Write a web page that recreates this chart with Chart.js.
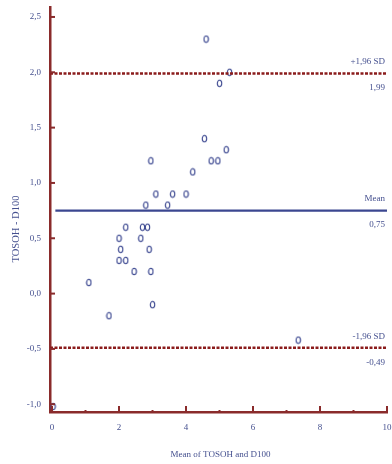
<!DOCTYPE html>
<html>
<head>
<meta charset="utf-8">
<script src="https://cdn.jsdelivr.net/npm/chart.js@4"></script>
<style>
  html, body { margin: 0; padding: 0; background: #fff; }
  #wrap { width: 392px; height: 464px; }
</style>
</head>
<body>
<div id="wrap"><canvas id="chart" width="392" height="464"></canvas></div>
<script>
// datos (Bland-Altman)
const meanVals = [0.03, 1.1, 1.7, 2.0, 2.05, 2.0, 2.2, 2.2, 2.45, 2.65, 2.7, 2.85, 2.8, 2.9, 2.95, 3.0, 2.95, 3.1, 3.45, 3.6, 4.0, 4.2, 4.55, 4.75, 4.95, 5.2, 4.6, 5.0, 5.3, 7.35];
const diffVals = [-1.02, 0.1, -0.2, 0.5, 0.4, 0.3, 0.3, 0.6, 0.2, 0.5, 0.6, 0.6, 0.8, 0.4, 0.2, -0.1, 1.2, 0.9, 0.8, 0.9, 0.9, 1.1, 1.4, 1.2, 1.2, 1.3, 2.3, 1.9, 2.0, -0.42];

const meanDiff = 0.75;
const upperLoA = 1.99;
const lowerLoA = -0.49;
const lineLabels = ['+1,96 SD', 'Mean', '-1,96 SD'];
const lineValues = ['1,99', '0,75', '-0,49'];

const xTicks = [0, 1, 2, 3, 4, 5, 6, 7, 8, 9, 10];
const yTicks = [-1.0, -0.5, 0.0, 0.5, 1.0, 1.5, 2.0, 2.5];

const axisColor = '#8a2b2b';
const limitColor = '#8b1c1c';
const navy = '#3b4790';
const textColor = '#45508f';
const serif = '"Liberation Serif", "DejaVu Serif", serif';

// marcador tipo "0" (elipse abierta)
const makeMarker = () => {
  const c = document.createElement('canvas');
  c.width = 7; c.height = 9;
  const g = c.getContext('2d');
  g.strokeStyle = navy;
  g.lineWidth = 1.1;
  g.beginPath();
  g.ellipse(3.5, 4.5, 2.2, 3.2, 0, 0, Math.PI * 2);
  g.stroke();
  return c;
};

const points = meanVals.map((x, i) => ({ x: x, y: diffVals[i] }));
const fmt = (v) => v.toFixed(1).replace('.', ',');

// dibuja marcas de los ejes y textos extra
const extrasPlugin = {
  id: 'extras',
  afterDraw(chart) {
    const ctx = chart.ctx;
    const xs = chart.scales.x;
    const ys = chart.scales.y;
    const area = chart.chartArea;
    ctx.save();
    ctx.strokeStyle = axisColor;
    ctx.lineWidth = 2;
    yTicks.forEach(v => {
      const py = ys.getPixelForValue(v);
      ctx.beginPath();
      ctx.moveTo(area.left, py);
      ctx.lineTo(area.left + 5, py);
      ctx.stroke();
    });
    xTicks.forEach(v => {
      const px = xs.getPixelForValue(v);
      const len = v % 2 === 0 ? 6 : 2;
      ctx.beginPath();
      ctx.moveTo(px, area.bottom);
      ctx.lineTo(px, area.bottom - len);
      ctx.stroke();
    });

    // etiquetas de las líneas
    ctx.fillStyle = textColor;
    ctx.font = '9px ' + serif;
    ctx.textAlign = 'right';
    [upperLoA, meanDiff, lowerLoA].forEach((v, i) => {
      const py = ys.getPixelForValue(v);
      ctx.textBaseline = 'bottom';
      ctx.fillText(lineLabels[i], area.right - 2, py - 7);
      ctx.textBaseline = 'top';
      ctx.fillText(lineValues[i], area.right - 2, py + 10);
    });

    // títulos de ejes
    ctx.textAlign = 'center';
    ctx.textBaseline = 'middle';
    ctx.fillText('Mean of TOSOH and D100', (area.left + area.right) / 2 + 2, 455);
    ctx.font = '10.5px ' + serif;
    ctx.translate(16, 229);
    ctx.rotate(-Math.PI / 2);
    ctx.fillText('TOSOH - D100', 0, 0);
    ctx.restore();
  }
};

new Chart(document.getElementById('chart'), {
  type: 'scatter',
  data: {
    datasets: [
      {
        label: 'upper',
        data: [{ x: -0.06, y: upperLoA }, { x: 10, y: upperLoA }],
        showLine: true,
        borderColor: limitColor,
        borderWidth: 2.5,
        borderDash: [3, 1.5],
        pointRadius: 0
      },
      {
        label: 'lower',
        data: [{ x: -0.06, y: lowerLoA }, { x: 10, y: lowerLoA }],
        showLine: true,
        borderColor: limitColor,
        borderWidth: 2.5,
        borderDash: [3, 1.5],
        pointRadius: 0
      },
      {
        label: 'mean',
        data: [{ x: 0.1, y: meanDiff }, { x: 10, y: meanDiff }],
        showLine: true,
        borderColor: navy,
        borderWidth: 2.2,
        pointRadius: 0
      },
      {
        label: 'diff',
        data: points,
        pointStyle: makeMarker(),
        pointRadius: 3
      }
    ]
  },
  options: {
    responsive: false,
    animation: false,
    layout: { padding: { top: 7, right: 5, left: 0, bottom: 0 } },
    plugins: {
      legend: { display: false },
      tooltip: { enabled: false }
    },
    scales: {
      x: {
        type: 'linear',
        min: -0.06,
        max: 10,
        afterFit: (s) => { s.height = 52; s.paddingLeft = 0; s.paddingRight = 0; },
        afterBuildTicks: (s) => { s.ticks = xTicks.filter(v => v % 2 === 0).map(v => ({ value: v })); },
        grid: { display: true, drawOnChartArea: false, drawTicks: false },
        border: { display: true, color: axisColor, width: 2.5 },
        ticks: {
          padding: 10,
          color: textColor,
          font: { family: serif, size: 9 },
          callback: (v) => String(v)
        }
      },
      y: {
        type: 'linear',
        min: -1.07,
        max: 2.59,
        afterFit: (s) => { s.width = 50; s.paddingTop = 0; s.paddingBottom = 0; },
        afterBuildTicks: (s) => { s.ticks = yTicks.map(v => ({ value: v })); },
        grid: { display: true, drawOnChartArea: false, drawTicks: false },
        border: { display: true, color: axisColor, width: 2.5 },
        ticks: {
          padding: 9,
          color: textColor,
          font: { family: serif, size: 9 },
          callback: (v) => fmt(v)
        }
      }
    }
  },
  plugins: [extrasPlugin]
});
</script>
</body>
</html>
